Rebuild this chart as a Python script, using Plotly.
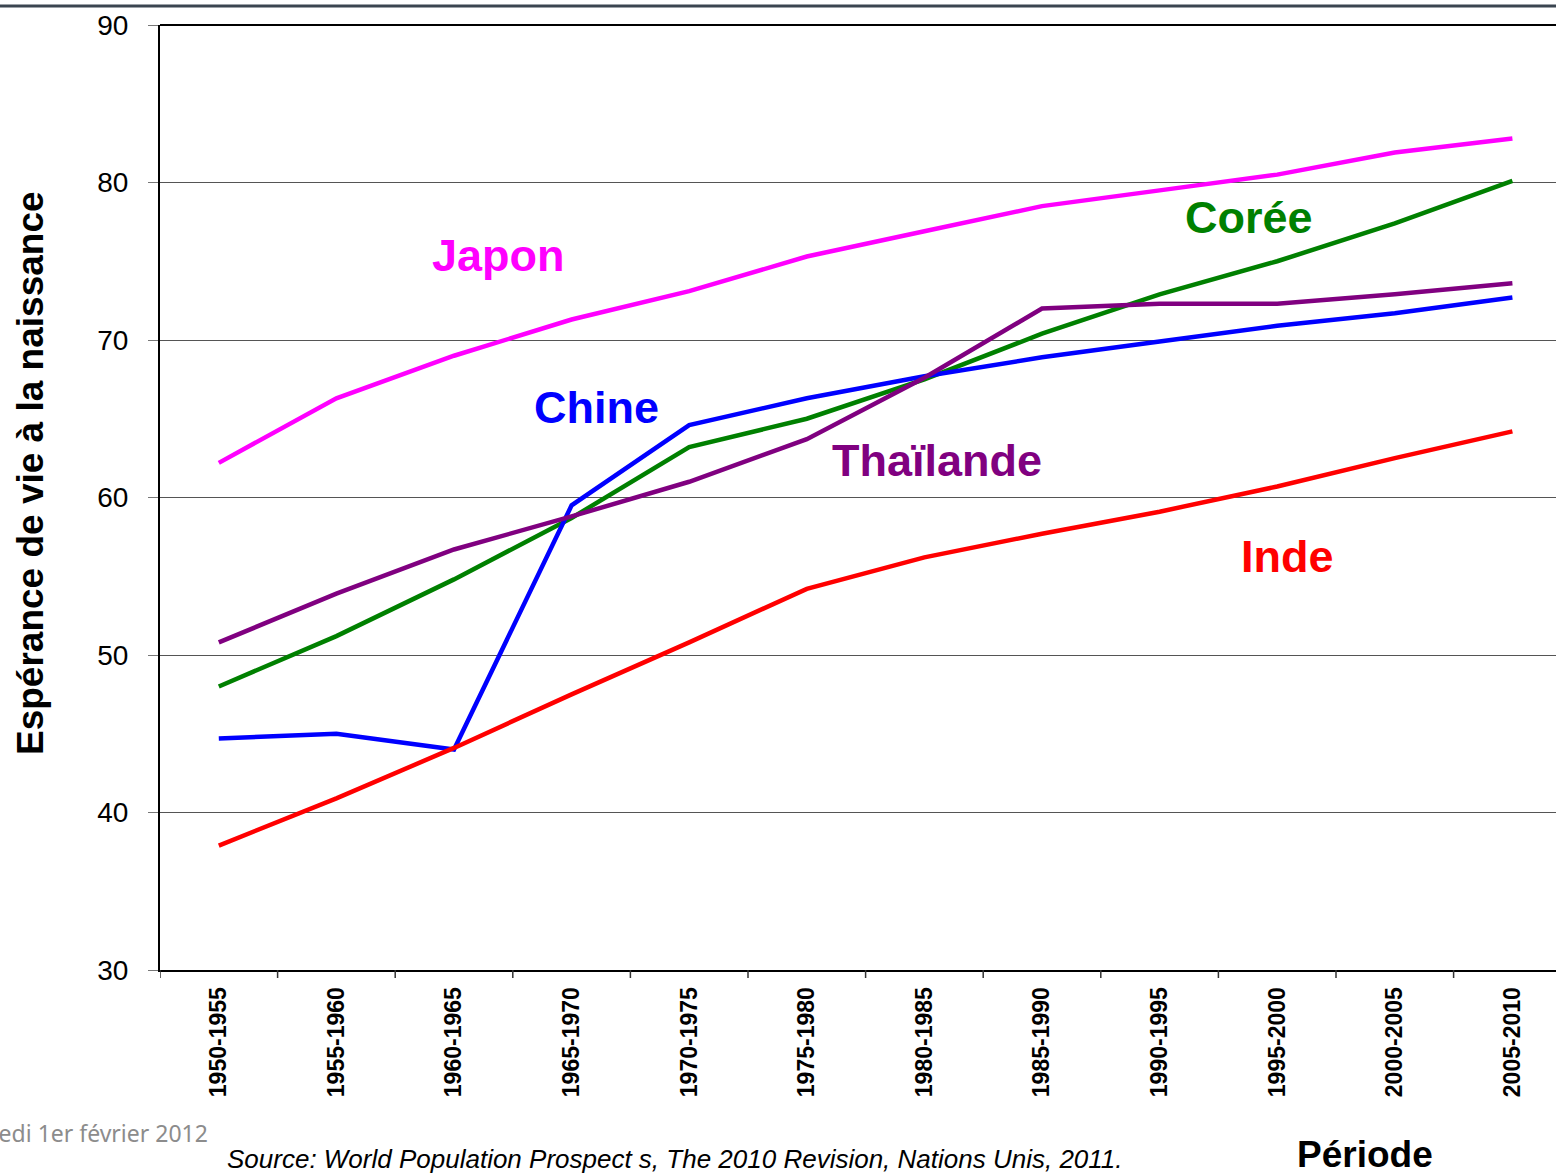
import plotly.graph_objects as go

periods = ["1950-1955", "1955-1960", "1960-1965", "1965-1970", "1970-1975", "1975-1980",
           "1980-1985", "1985-1990", "1990-1995", "1995-2000", "2000-2005", "2005-2010"]
japon = [62.2, 66.3, 69.0, 71.3, 73.1, 75.3, 76.9, 78.5, 79.5, 80.5, 81.9, 82.8]
coree = [48.0, 51.2, 54.8, 58.7, 63.2, 65.0, 67.5, 70.4, 72.9, 75.0, 77.4, 80.1]
chine = [44.7, 45.0, 44.0, 59.5, 64.6, 66.3, 67.7, 68.9, 69.9, 70.9, 71.7, 72.7]
thailande = [50.8, 53.9, 56.7, 58.8, 61.0, 63.7, 67.6, 72.0, 72.3, 72.3, 72.9, 73.6]
inde = [37.9, 40.9, 44.1, 47.5, 50.8, 54.2, 56.2, 57.7, 59.1, 60.7, 62.5, 64.2]

series = [
    ("Japon", japon, "#ff00ff"),
    ("Corée", coree, "#008000"),
    ("Chine", chine, "#0000ff"),
    ("Thaïlande", thailande, "#800080"),
    ("Inde", inde, "#ff0000"),
]

W, H = 1556, 1175
ML, MR, MT, MB = 160, 0, 25, 205
PW = W - ML - MR
PH = H - MT - MB
step = 117.6

fig = go.Figure()
for name, vals, col in series:
    fig.add_trace(go.Scatter(x=list(range(len(periods))), y=vals, mode="lines", name=name,
                             line=dict(color=col, width=4.5), showlegend=False,
                             hoverinfo="skip"))

label_pos = {
    "Japon": (498, 255),
    "Chine": (596, 408),
    "Thaïlande": (937, 461),
    "Corée": (1249, 217),
    "Inde": (1287, 556),
}
annotations = []
for name, vals, col in series:
    px, py = label_pos[name]
    annotations.append(dict(x=(px - ML) / PW, y=(MT + PH - py) / PH, xref="paper", yref="paper",
                            text="<b>%s</b>" % name, showarrow=False,
                            font=dict(family="Liberation Sans", size=45, color=col),
                            xanchor="center", yanchor="middle"))

annotations.append(dict(x=(30 - ML) / PW, y=(MT + PH - 473) / PH, xref="paper", yref="paper",
                        text="<b>Espérance de vie à la naissance</b>", textangle=-90, showarrow=False,
                        font=dict(family="Liberation Sans", size=37, color="black"),
                        xanchor="center", yanchor="middle"))
annotations.append(dict(x=(210 - ML) / PW, y=(MT + PH - 1133) / PH, xref="paper", yref="paper",
                        text="mercredi 1er février 2012", showarrow=False,
                        font=dict(family="Noto Sans", size=23, color="#8c8c8c"),
                        xanchor="right", yanchor="middle"))
annotations.append(dict(x=(225 - ML) / PW, y=(MT + PH - 1159) / PH, xref="paper", yref="paper",
                        text="<i>Source: World Population Prospect s, The 2010 Revision, Nations Unis, 2011.</i>",
                        showarrow=False,
                        font=dict(family="Liberation Sans", size=26, color="black"),
                        xanchor="left", yanchor="middle"))
annotations.append(dict(x=(1365 - ML) / PW, y=(MT + PH - 1154) / PH, xref="paper", yref="paper",
                        text="<b>Période</b>", showarrow=False,
                        font=dict(family="Liberation Sans", size=37, color="black"),
                        xanchor="center", yanchor="middle"))

shapes = [
    dict(type="line", xref="paper", yref="paper", x0=-ML / PW, x1=1.0, y0=(MT + PH - 6) / PH,
         y1=(MT + PH - 6) / PH, line=dict(color="#3b4550", width=3)),
    dict(type="line", xref="paper", yref="paper", x0=0, x1=1.0, y0=1, y1=1,
         line=dict(color="black", width=2)),
]

fig.update_layout(
    width=W, height=H,
    margin=dict(l=ML, r=MR, t=MT, b=MB),
    paper_bgcolor="white", plot_bgcolor="white",
    annotations=annotations, shapes=shapes,
    xaxis=dict(
        range=[-0.5, -0.5 + PW / step],
        tickmode="array", tickvals=list(range(len(periods))),
        ticktext=["<b>%s</b>" % p for p in periods],
        tickangle=-90, showgrid=False, zeroline=False,
        showline=True, linecolor="black", linewidth=2,
        ticks="", ticklabelstandoff=6,
        tickfont=dict(family="Liberation Sans", size=23, color="black"),
    ),
    yaxis=dict(
        range=[30, 90], dtick=10, tick0=30,
        showgrid=True, gridcolor="#555555", gridwidth=1,
        zeroline=False, showline=True, linecolor="black", linewidth=2,
        ticks="outside", ticklen=10, tickcolor="#777777", tickwidth=1,
        ticklabelstandoff=14,
        tickfont=dict(family="Liberation Sans", size=28, color="black"),
    ),
)

# x tick marks at category boundaries
for i in range(len(periods) + 1):
    xb = i - 0.5
    if xb > -0.5 + PW / step:
        break
    fig.add_shape(type="line", xref="x", yref="paper", x0=xb, x1=xb, y0=0, y1=-8 / PH,
                  line=dict(color="#333333", width=1.5))

fig.write_html("out.html", config={"displayModeBar": False},
               post_script="document.body.style.margin='0';document.body.style.overflow='hidden';")
